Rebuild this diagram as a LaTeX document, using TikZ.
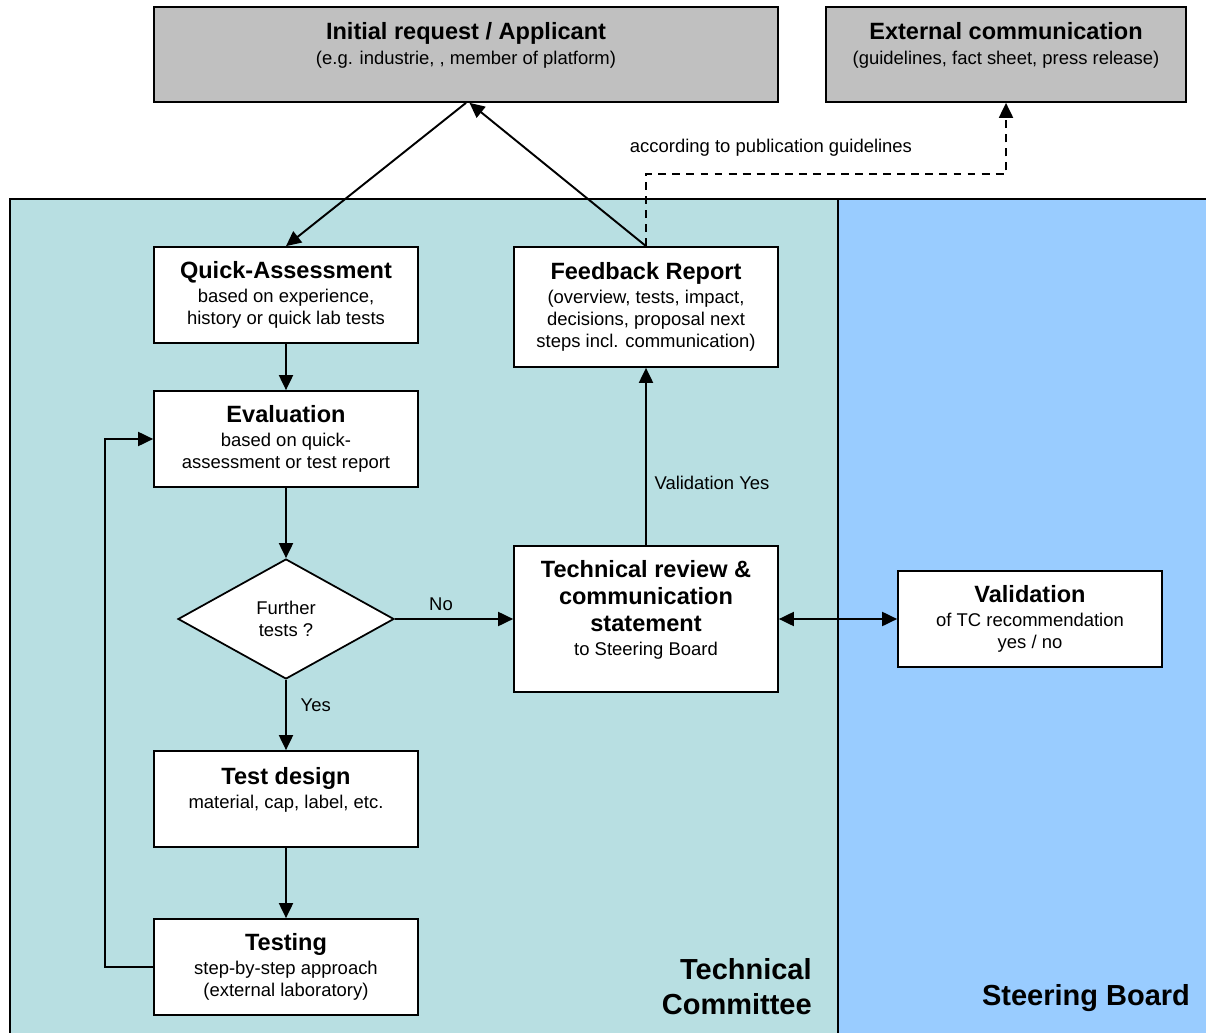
\documentclass[tikz,border=0pt]{standalone}
\usepackage{fontspec}
\setmainfont{Liberation Sans}
\usepackage{xcolor}
\usetikzlibrary{arrows.meta}
\usetikzlibrary{shapes.geometric}
\definecolor{headgray}{RGB}{192,192,192}
\definecolor{tcteal}{RGB}{184,223,226}
\definecolor{sbblue}{RGB}{153,204,255}
\tikzset{
  every node/.style = {font = \fontsize{10.5}{12.5}\selectfont}
}
\tikzset{
    >={Triangle[length=3mm,width=2.8mm]}
}
\tikzset{
  box/.style = {draw, line width=1pt, fill=white, align=center,
    minimum width=5.28cm, minimum height=1.92cm, inner sep=2pt},
  headbox/.style = {box, fill=headgray, minimum height=1.9cm},
  decision/.style = {draw, line width=1pt, fill=white, diamond, align=center,
    minimum width=4.32cm, minimum height=2.4cm, inner sep=1pt},
  flow/.style = {line width=1.1pt, ->},
  lanelabel/.style = {font=\fontsize{16.5}{19.8}\selectfont\bfseries, inner sep=0pt}
}
\newcommand{\hd}[1]{{\fontsize{13.4}{15.5}\selectfont\bfseries #1}}

\begin{document}
\begin{tikzpicture}[x=0.02cm,y=-0.02cm]
\useasboundingbox (0,0) rectangle (1206,1033);

% Swim lanes
\fill[tcteal] (10,199) rectangle (838,1033);
\fill[sbblue] (838,199) rectangle (1206,1033);
\draw[line width=1pt] (10,1033) -- (10,199) -- (1206,199);
\draw[line width=1pt] (838,199) -- (838,1033);

\node[lanelabel, anchor=east, align=right] (tclabel) at (812,987) {Technical\\Committee};
\node[lanelabel, anchor=base] (sblabel) at (1086,1005) {Steering Board};

% Outside boxes
\node[headbox, minimum width=12.48cm] (init) at (466,54.5)
  {\hd{Initial request / Applicant}\\[1.5pt] (e.g. industrie, , member of platform)\\ ~};
\node[headbox, minimum width=7.2cm] (ext) at (1006,54.5)
  {\hd{External communication}\\[1.5pt] (guidelines, fact sheet, press release)\\ ~};

% Left column
\node[box] (quick) at (286,295)
  {\hd{Quick-Assessment}\\[1.5pt] based on experience,\\ history or quick lab tests};
\node[box] (eval) at (286,439)
  {\hd{Evaluation}\\[1.5pt] based on quick-\\ assessment or test report};
\node[decision] (dec) at (286,619) {Further\\ tests ?};
\node[box] (design) at (286,799)
  {\hd{Test design}\\[1.5pt] material, cap, label, etc.\\ ~};
\node[box] (testing) at (286,967)
  {\hd{Testing}\\[1.5pt] step-by-step approach\\ (external laboratory)};

% Right column
\node[box, minimum height=2.4cm] (feedback) at (646,307)
  {\hd{Feedback Report}\\[1.5pt] (overview, tests, impact,\\ decisions, proposal next\\ steps incl. communication)};
\node[box, minimum height=2.92cm] (review) at (646,619)
  {\hd{Technical review \&}\\[3pt] \hd{communication}\\[3pt] \hd{statement}\\[1pt] to Steering Board\\ ~};
\node[box] (valid) at (1030,619)
  {\hd{Validation}\\[1.5pt] of TC recommendation\\ yes / no};

% Connectors
\draw[flow] (init.south) -- (quick.north);
\draw[flow] (feedback.north) -- ([xshift=2pt]init.south);
\draw[flow] (quick.south) -- (eval.north);
\draw[flow] (eval.south) -- (dec.north);
\draw[flow] (dec.south) -- node[pos=0.36, anchor=west, xshift=4.5pt]{Yes} (design.north);
\draw[flow] (design.south) -- (testing.north);
\draw[flow] (testing.west) -- ++(-48,0) |- (eval.west);
\draw[flow] (dec.east) -- node[pos=0.39, anchor=south, yshift=1pt]{No} (review.west);
\draw[flow] (review.north) -- node[pos=0.35, anchor=west, xshift=1pt]{Validation Yes} (feedback.south);
\draw[flow, <->] (review.east) -- (valid.west);

% Publication path
\draw[flow, dash pattern=on 4.5pt off 3.5pt] (feedback.north) -- ++(0,-72) -| (ext.south);
\node (pubnote) at (771,148) {according to publication guidelines};
\end{tikzpicture}
\end{document}
